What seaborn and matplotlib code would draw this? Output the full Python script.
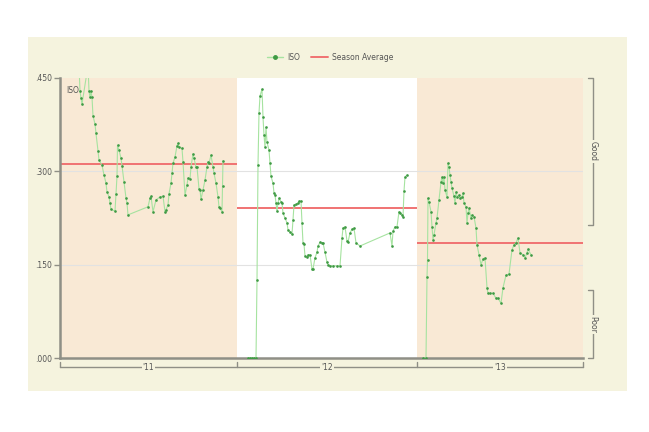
import numpy as np
import pandas as pd
import matplotlib
matplotlib.use("Agg")
import matplotlib.pyplot as plt
import seaborn as sns
from matplotlib.lines import Line2D
from matplotlib.patches import Rectangle
from matplotlib.transforms import blended_transform_factory

# ---------------- data ----------------
season_labels = ["'11", "'12", "'13"]
season_bounds = [0, 177, 357, 523]          # timeline day where each season starts/ends
season_avgs = [0.312, 0.241, 0.185]

days_11 = [19, 20, 21, 22, 28, 29, 30, 31, 32, 33, 35, 36, 38, 39, 42, 44, 46, 47, 49, 50,
           51, 55, 56, 57, 57.5, 59, 61, 62, 64, 66, 67, 68, 88, 90, 91, 93, 96, 100, 103,
           105, 106, 108, 109, 111, 112, 113, 115, 117, 118, 119, 122, 123, 125, 127, 128,
           130, 131, 133, 134, 136, 137, 139, 140, 141, 143, 145, 147, 148, 149, 151, 153,
           154, 156, 158, 159, 160, 162, 162.5, 163]
iso_11 = [0.470, 0.429, 0.418, 0.408, 0.470, 0.429, 0.419, 0.429, 0.419, 0.389, 0.376,
          0.361, 0.333, 0.318, 0.310, 0.294, 0.281, 0.267, 0.259, 0.249, 0.239, 0.236,
          0.264, 0.292, 0.342, 0.334, 0.321, 0.309, 0.283, 0.257, 0.249, 0.230, 0.243,
          0.257, 0.260, 0.235, 0.254, 0.259, 0.260, 0.235, 0.238, 0.246, 0.264, 0.281,
          0.297, 0.313, 0.323, 0.341, 0.345, 0.339, 0.337, 0.315, 0.262, 0.278, 0.289,
          0.288, 0.307, 0.328, 0.321, 0.307, 0.307, 0.272, 0.270, 0.255, 0.270, 0.286,
          0.307, 0.315, 0.313, 0.326, 0.307, 0.297, 0.281, 0.259, 0.243, 0.241, 0.235,
          0.276, 0.317]

days_12 = [188, 190, 192, 194, 196, 197, 198, 199, 200, 202, 203, 204, 205, 206, 207, 209,
           210, 211, 213, 214, 215, 216, 217, 218, 219, 221, 222, 223, 225, 227, 228, 230,
           232, 233, 234, 236, 238, 239, 241, 242, 243, 244, 245, 247, 248, 250, 252, 253,
           255, 257, 258, 260, 262, 263, 265, 267, 268, 270, 273, 277, 280, 282, 283, 285,
           287, 288, 290, 292, 294, 296, 300, 330, 332, 333, 335, 337, 339, 340, 342, 343,
           344, 345, 347]
iso_12 = [0.0, 0.0, 0.0, 0.0, 0.0, 0.125, 0.310, 0.394, 0.421, 0.432, 0.387, 0.358, 0.339,
          0.371, 0.347, 0.334, 0.313, 0.292, 0.281, 0.265, 0.262, 0.249, 0.236, 0.249,
          0.257, 0.251, 0.249, 0.233, 0.225, 0.217, 0.206, 0.202, 0.199, 0.222, 0.246,
          0.247, 0.249, 0.252, 0.252, 0.217, 0.185, 0.183, 0.164, 0.162, 0.166, 0.166,
          0.143, 0.143, 0.161, 0.170, 0.180, 0.186, 0.185, 0.185, 0.170, 0.154, 0.150,
          0.148, 0.148, 0.148, 0.148, 0.193, 0.209, 0.211, 0.188, 0.186, 0.201, 0.207,
          0.209, 0.185, 0.180, 0.201, 0.180, 0.204, 0.211, 0.211, 0.235, 0.233, 0.230,
          0.227, 0.268, 0.291, 0.294]

days_13 = [363, 366, 367, 367.5, 368, 369, 371, 372, 373, 374, 376, 377, 379, 381, 382, 383,
           384, 385, 387, 388, 389, 390, 391, 392, 394, 395, 396, 397, 399, 400, 402, 403,
           404, 406, 407, 408, 409, 411, 412, 414, 416, 417, 419, 421, 423, 425, 427, 428,
           430, 433, 436, 438, 441, 443, 446, 449, 452, 454, 456, 458, 460, 463, 465, 467,
           468, 471]
iso_13 = [0.0, 0.0, 0.130, 0.157, 0.257, 0.251, 0.235, 0.211, 0.190, 0.198, 0.217, 0.225,
          0.254, 0.283, 0.291, 0.281, 0.291, 0.270, 0.259, 0.313, 0.307, 0.294, 0.283,
          0.273, 0.260, 0.249, 0.267, 0.259, 0.262, 0.257, 0.259, 0.265, 0.249, 0.243,
          0.217, 0.233, 0.241, 0.225, 0.230, 0.227, 0.209, 0.182, 0.166, 0.150, 0.159,
          0.161, 0.113, 0.104, 0.104, 0.104, 0.096, 0.096, 0.088, 0.113, 0.133, 0.135,
          0.174, 0.182, 0.185, 0.193, 0.169, 0.166, 0.161, 0.169, 0.175, 0.166]

y_ticks = [0.0, 0.150, 0.300, 0.450]
y_ticklabels = [".000", ".150", ".300", ".450"]
zone_labels = ["Good", "Poor"]
zone_ranges = [(0.214, 0.450), (0.0, 0.109)]

df = pd.concat([
    pd.DataFrame({"day": d, "ISO": v, "season": s})
    for d, v, s in zip([days_11, days_12, days_13], [iso_11, iso_12, iso_13], season_labels)
], ignore_index=True)

# ---------------- style ----------------
W, H = 649, 432
panel_col = "#f5f3de"
tan_col = "#f9e9d5"
axis_col = "#8f8f86"
text_col = "#555555"
line_green = "#a6e3a0"
marker_green = "#3f9a44"
avg_red = "#f07272"

sns.set_theme(style="white")
plt.rcParams["font.family"] = ["DejaVu Sans"]

fig = plt.figure(figsize=(W / 100, H / 100), dpi=100)
fig.patch.set_facecolor("white")
panel = Rectangle((28 / W, 1 - 391 / H), (627 - 28) / W, (391 - 37) / H,
                  transform=fig.transFigure, facecolor=panel_col, edgecolor="none",
                  zorder=-10)
fig.patches.append(panel)

ax = fig.add_axes([60 / W, 1 - 358 / H, (583 - 60) / W, (358 - 78) / H])
ax.set_zorder(1)
ax.set_facecolor("white")
ax.set_xlim(season_bounds[0], season_bounds[-1])
ax.set_ylim(0, 0.45)

for i in (0, 2):
    ax.axvspan(season_bounds[i], season_bounds[i + 1], color=tan_col, lw=0, zorder=0)

for yv in y_ticks[1:3]:
    ax.axhline(yv, color="#e2e2e2", lw=0.8, zorder=1)

for i, avg in enumerate(season_avgs):
    ax.hlines(avg, season_bounds[i], season_bounds[i + 1], color=avg_red, lw=1.4, zorder=2)

sns.lineplot(data=df, x="day", y="ISO", units="season", estimator=None, ax=ax,
             color=line_green, lw=0.8, marker="o", markersize=1.9,
             markerfacecolor=marker_green, markeredgecolor=marker_green,
             markeredgewidth=0, legend=False, zorder=3)

ax.set_xlabel("")
ax.set_ylabel("")
ax.set_xticks([])
ax.set_yticks(y_ticks)
ax.set_yticklabels(y_ticklabels, fontsize=5.5, color=text_col)
ax.tick_params(axis="y", length=4, width=1, color=axis_col, pad=2, left=True)
for side in ("top", "right"):
    ax.spines[side].set_visible(False)
for side in ("left", "bottom"):
    ax.spines[side].set_color(axis_col)
    ax.spines[side].set_linewidth(1.8)
ax.text(0.012, 0.97, "ISO", transform=ax.transAxes, fontsize=5.5, color=text_col,
        va="top", ha="left")

# bottom season bracket
tb = blended_transform_factory(ax.transData, fig.transFigure)
yb = 1 - 367 / H
ax.plot([season_bounds[0], season_bounds[-1]], [yb, yb], transform=tb, color=axis_col,
        lw=1.0, clip_on=False)
for b in season_bounds:
    ax.plot([b, b], [yb, 1 - 362 / H], transform=tb, color=axis_col, lw=1.0, clip_on=False)
for i, lab in enumerate(season_labels):
    xm = (season_bounds[i] + season_bounds[i + 1]) / 2
    ax.text(xm, yb, lab, transform=tb, fontsize=5.5, color=text_col, ha="center",
            va="center", bbox=dict(boxstyle="square,pad=0.15", fc=panel_col, ec="none"))

# right zone brackets
tr = blended_transform_factory(fig.transFigure, ax.transData)
xr = 593 / W
xr2 = 588 / W
for lab, (lo, hi) in zip(zone_labels, zone_ranges):
    ax.plot([xr2, xr, xr, xr2], [lo, lo, hi, hi], transform=tr, color=axis_col, lw=1.0,
            clip_on=False)
    ax.text(xr, (lo + hi) / 2, lab, transform=tr, rotation=-90, fontsize=5.5,
            color=text_col, ha="center", va="center",
            bbox=dict(boxstyle="square,pad=0.15", fc=panel_col, ec="none"))

# legend
handles = [Line2D([], [], color=line_green, lw=1, marker="o", markersize=2.5,
                  markerfacecolor=marker_green, markeredgecolor=marker_green),
           Line2D([], [], color=avg_red, lw=1.4)]
fig.legend(handles, ["ISO", "Season Average"], loc="center", ncol=2,
           bbox_to_anchor=(330 / W, 1 - 57 / H), frameon=False, fontsize=5.5,
           handlelength=2.2, columnspacing=1.5, handletextpad=0.5,
           labelcolor=text_col)

fig.savefig("out.png", dpi=100, facecolor="white")
